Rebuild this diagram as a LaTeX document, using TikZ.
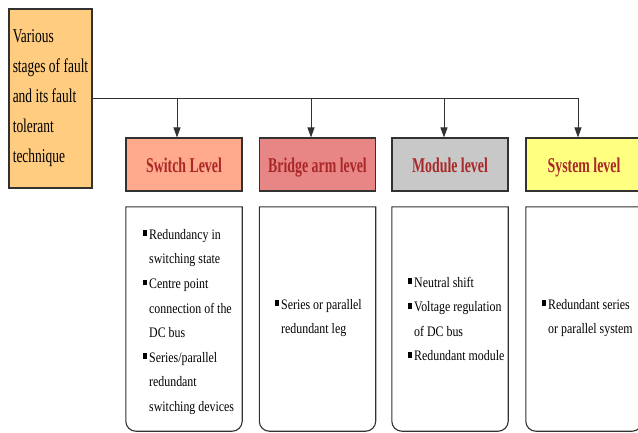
\documentclass[tikz,border=0pt]{standalone}
\usepackage{fontspec}
\usetikzlibrary{arrows.meta}
\newfontfamily\condserif[FakeStretch=0.69]{Liberation Serif}
\newfontfamily\condhead[FakeStretch=0.66]{Liberation Serif}
\newfontfamily\condlist[FakeStretch=0.82]{Liberation Serif}
\definecolor{rootfill}{RGB}{255,204,128}
\definecolor{switchfill}{RGB}{255,170,140}
\definecolor{bridgefill}{RGB}{232,134,134}
\definecolor{modulefill}{RGB}{200,200,200}
\definecolor{systemfill}{RGB}{255,255,128}
\definecolor{headred}{RGB}{170,40,40}
\definecolor{linegray}{RGB}{50,50,50}
\newcommand{\sqbullet}{\rule[3.2pt]{3.8pt}{5.8pt}\hspace{2.2pt}}
\newcommand{\bulletgap}{\hspace{6pt}}
\tikzset{
  rootbox/.style={draw=linegray, line width=1.1pt, fill=rootfill, minimum width=83pt,
    minimum height=179pt, inner sep=0pt, align=left,
    font=\fontsize{19.5}{30}\condserif},
  headbox/.style={draw=linegray, line width=1.1pt, minimum width=116pt, minimum height=53pt,
    inner sep=0pt, text height=15pt, text depth=0pt, text=headred,
    font=\fontsize{21}{24}\condhead\bfseries},
  listbox/.style={minimum width=116pt, minimum height=224pt, inner sep=0pt},
  listtext/.style={anchor=west, inner sep=0pt, align=left,
    font=\fontsize{14.5}{24.6}\condlist},
  link/.style={draw=linegray, line width=1pt},
  down/.style={link, -{Triangle[length=10pt,width=7pt]}},
  outline/.style={draw=linegray, line width=1.1pt}
}
\begin{document}
\begin{tikzpicture}[x=1pt, y=-1pt]
\useasboundingbox (0,0) rectangle (638,432);
\clip (0,0) rectangle (638,432);

% root box
\node[rootbox] (root) at (50.5,98.5) {Various\\stages of fault\\and its fault\\tolerant\\technique};

% level headers
\node[headbox, fill=switchfill] (h1) at (184,164.5) {Switch Level};
\node[headbox, fill=bridgefill] (h2) at (317.5,164.5) {Bridge arm level};
\node[headbox, fill=modulefill] (h3) at (450,164.5) {Module level};
\node[headbox, fill=systemfill] (h4) at (584,164.5) {System level};

% branch points on the trunk line
\coordinate (j1) at (177,98);
\coordinate (j2) at (311,98);
\coordinate (j3) at (444,98);
\coordinate (j4) at (578,98);

\draw[link] (root.east |- j1) -- (j4);
\foreach \i in {1,2,3,4}{
  \draw[down] (j\i) -- (j\i |- h\i.north);
}

% technique boxes: square top, rounded bottom
\foreach \i/\cx in {1/184,2/317.5,3/450,4/584}{
  \node[listbox] (b\i) at (\cx,319) {};
  \draw[outline, fill=white] (b\i.east) [rounded corners=10pt] -- (b\i.south east)
    -- (b\i.south west) -- (b\i.west) [sharp corners] -- (b\i.north west)
    -- (b\i.north east) -- cycle;
}

\node[listtext] (t1) at (143,322) {\sqbullet Redundancy in\\\bulletgap switching state\\
  \sqbullet Centre point\\\bulletgap connection of the\\\bulletgap DC bus\\
  \sqbullet Series/parallel\\\bulletgap redundant\\\bulletgap switching devices};
\node[listtext] (t2) at (275,318) {\sqbullet Series or parallel\\\bulletgap redundant leg};
\node[listtext] (t3) at (408,319) {\sqbullet Neutral shift\\\sqbullet Voltage regulation\\
  \bulletgap of DC bus\\\sqbullet Redundant module};
\node[listtext] (t4) at (542,318) {\sqbullet Redundant series\\\bulletgap or parallel system};
\end{tikzpicture}
\end{document}
